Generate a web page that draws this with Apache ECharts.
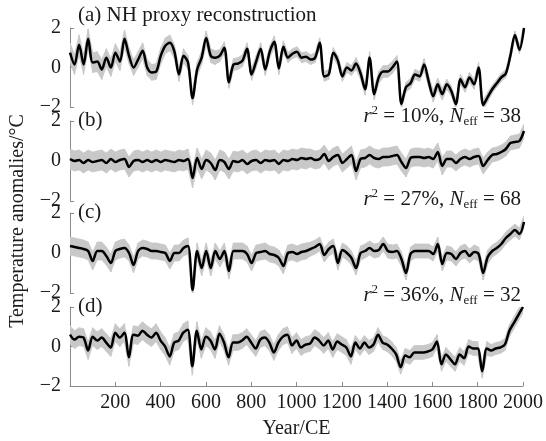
<!DOCTYPE html>
<html lang="en">
<head>
<meta charset="UTF-8">
<title>NH temperature reconstructions</title>
<script src="https://cdn.jsdelivr.net/npm/echarts@6/dist/echarts.min.js"></script>
<style>
  html, body { margin: 0; padding: 0; background: #fff; }
  #main { width: 546px; height: 441px; }
</style>
</head>
<body>
<div id="main"></div>
<script>
// sample years (every 20 yr, 0..2000 CE)
var years = [];
for (var yr = 0; yr <= 2000; yr += 20) years.push(yr);

// (a) NH proxy reconstruction
var seriesA = [
  0.75, 0.15, 1.15, 0.15, 1.45, 0.25, 0.3, -0.1, 0.5, 0.0,
  0.75, 0.3, 1.45, 0.6, 0.0, 0.4, 0.85, 0.0, -0.25, -0.2,
  0.6, 1.1, 1.25, 0.8, -0.35, 0.6, 0.25, -1.55, -0.1, 0.5,
  1.5, 0.6, 0.5, 0.6, 1.0, -0.75, 0.15, 0.2, 0.35, 0.95,
  -0.35, 0.3, 0.95, -0.1, 0.8, 1.3, -0.05, 1.05, 0.5, 0.7,
  0.8, 0.5, 0.55, 0.4, 0.5, 1.25, -0.45, -0.35, 0.75, 0.35,
  -0.45, 0.0, -0.15, 0.2, -0.3, -1.1, 0.5, -1.35, -0.5, -0.2,
  -0.2, 0.0, 0.3, -1.85, -1.0, -0.8, -0.35, -0.45, 0.15, -0.7,
  -1.45, -0.85, -1.35, -0.85, -1.2, -1.85, -0.6, -1.0, -0.5, -0.85,
  0.0, -1.9, -1.5, -1.1, -0.8, -0.5, -0.3, 0.6, 1.65, 0.9,
  2.0
];
// (b)
var seriesB = [
  0.1, 0.0, 0.05, -0.1, 0.05, -0.05, 0.0, 0.05, -0.1, 0.1,
  -0.05, 0.05, 0.1, -0.3, 0.0, 0.05, -0.05, 0.05, -0.05, 0.05,
  -0.05, 0.05, 0.0, -0.05, 0.05, 0.0, 0.1, -0.85, 0.15, -0.4,
  0.05, -0.1, -0.45, 0.05, -0.05, -0.4, 0.0, -0.05, 0.05, -0.15,
  0.0, 0.05, -0.1, 0.05, 0.0, 0.05, -0.15, 0.05, 0.0, 0.1,
  0.05, 0.15, 0.1, 0.15, 0.05, 0.1, 0.35, 0.0, 0.2, 0.3,
  -0.1, 0.1, 0.3, -0.5, 0.1, 0.15, 0.3, 0.15, 0.1, 0.2,
  0.2, 0.25, 0.3, -0.05, -0.35, 0.15, 0.2, 0.2, 0.15, 0.2,
  0.1, 0.45, -0.25, 0.1, 0.1, -0.1, 0.1, 0.2, 0.1, 0.2,
  0.25, -0.25, 0.05, 0.3, 0.35, 0.45, 0.6, 0.9, 0.95, 1.0,
  1.5
];
// (c)
var seriesC = [
  0.35, 0.3, 0.25, 0.2, 0.1, -0.4, 0.1, 0.1, -0.15, -0.5,
  0.1, 0.2, 0.25, 0.0, -0.6, 0.1, 0.25, 0.2, 0.1, 0.1,
  0.05, 0.0, -0.4, 0.0, 0.0, 0.25, 0.35, -1.85, 0.1, -0.75,
  0.1, -0.75, 0.1, -0.3, 0.1, -0.9, 0.1, 0.1, 0.1, -0.05,
  -0.5, 0.0, 0.05, 0.1, -0.05, -0.1, -0.25, -0.65, 0.0, 0.05,
  -0.05, 0.05, 0.1, 0.2, 0.3, 0.45, -0.1, 0.2, 0.35, -0.5,
  0.15, 0.0, -0.25, -0.75, 0.0, 0.1, 0.25, 0.1, 0.15, 0.45,
  0.1, 0.05, 0.1, -0.3, -1.0, -0.05, 0.1, 0.1, 0.1, 0.1,
  -0.05, 0.45, -0.55, 0.0, -0.05, -0.3, 0.0, 0.1, -0.15, 0.05,
  -0.05, -1.0, -0.2, 0.1, 0.25, 0.45, 0.75, 0.95, 1.15, 0.95,
  1.55
];
// (d)
var seriesD = [
  0.6, 0.35, 0.5, 0.45, -0.2, 0.5, 0.3, 0.45, 0.2, -0.05,
  0.7, 0.45, 0.7, -0.55, 0.6, 0.55, 0.8, 0.6, 0.45, 0.7,
  0.3, 0.0, -0.5, 0.2, 0.3, 0.7, 0.85, -1.0, 0.8, -0.15,
  0.5, 0.3, -0.15, 0.65, 0.2, -0.55, 0.2, 0.2, 0.3, 0.5,
  0.2, -0.1, 0.35, 0.45, 0.2, -0.3, 0.2, 0.5, 0.6, 0.05,
  0.3, -0.05, 0.1, 0.15, 0.45, 0.3, 0.05, 0.3, -0.15, 0.25,
  0.1, -0.05, -0.5, 0.2, -0.1, 0.2, -0.05, 0.1, 0.6, 0.2,
  0.1, -0.1, -0.4, -1.05, -0.45, -0.55, -0.3, -0.3, -0.3, -0.25,
  -0.15, 0.25, -0.9, -0.4, -0.65, -0.9, -0.4, -0.6, 0.0, -0.1,
  -0.1, -1.25, -0.1, -0.2, -0.1, -0.05, 0.1, 0.8, 1.2, 1.6,
  2.0
];

// half-width of the grey uncertainty band, one value per century (0..2000)
var spreadA = [0.5, 0.5, 0.45, 0.4, 0.4, 0.35, 0.35, 0.3, 0.3, 0.3, 0.25,
               0.25, 0.25, 0.3, 0.3, 0.25, 0.3, 0.25, 0.25, 0.2, 0.2];
var spreadB = [0.5, 0.5, 0.5, 0.5, 0.5, 0.5, 0.5, 0.5, 0.5, 0.5, 0.5,
               0.45, 0.45, 0.45, 0.45, 0.45, 0.45, 0.4, 0.4, 0.35, 0.35];
var spreadC = [0.45, 0.45, 0.45, 0.4, 0.4, 0.4, 0.4, 0.4, 0.4, 0.4, 0.4,
               0.35, 0.35, 0.35, 0.35, 0.35, 0.35, 0.35, 0.35, 0.3, 0.3];
var spreadD = [0.45, 0.45, 0.45, 0.45, 0.45, 0.45, 0.45, 0.4, 0.4, 0.4, 0.4,
               0.4, 0.4, 0.35, 0.35, 0.35, 0.35, 0.35, 0.35, 0.3, 0.3];

var panelLabels = ['(a) NH proxy reconstruction', '(b)', '(c)', '(d)'];
var fitR2 = [null, '10%', '27%', '36%'];
var fitNeff = [null, '38', '68', '32'];
var yTicks = [-2, 0, 2];
var xTicks = [200, 400, 600, 800, 1000, 1200, 1400, 1600, 1800, 2000];

var allSeries = [seriesA, seriesB, seriesC, seriesD];
var allSpread = [spreadA, spreadB, spreadC, spreadD];

var serif = 'Liberation Serif, Times New Roman, serif';
var tops = [28, 121, 213, 307];
var heights = [79, 80, 80, 79];
var axisGray = '#8a8a8a';
var bandGray = '#c8c8c8';

// grey band: one quad per segment, between sample k and k+1
function bandRenderer(rows) {
  return function (params, api) {
    var k = params.dataIndex;
    if (k >= rows.length - 1) return;
    var a = rows[k], b = rows[k + 1];
    var pts = [
      api.coord([a[0], a[2]]), api.coord([b[0], b[2]]),
      api.coord([b[0], b[1]]), api.coord([a[0], a[1]])
    ];
    return {
      type: 'polygon',
      shape: { points: pts },
      style: { fill: bandGray, stroke: bandGray, lineWidth: 0.8 }
    };
  };
}

var grids = [], xAxes = [], yAxes = [], series = [], graphics = [];

for (var p = 0; p < 4; p++) {
  grids.push({ left: 70, right: 22, top: tops[p], height: heights[p] });

  var isLast = (p === 3);
  xAxes.push({
    gridIndex: p, type: 'value', min: 0, max: 2000, interval: 200,
    show: isLast,
    axisLine: { show: true, onZero: false, lineStyle: { color: axisGray, width: 1 } },
    axisTick: { show: true, inside: true, length: 4, lineStyle: { color: axisGray } },
    splitLine: { show: false },
    axisLabel: {
      show: true, showMinLabel: false, margin: 7,
      fontFamily: serif, fontSize: 20, color: '#1a1a1a',
      formatter: function (v) { return xTicks.indexOf(v) >= 0 ? String(v) : ''; }
    },
    name: isLast ? 'Year/CE' : '', nameLocation: 'middle', nameGap: 33,
    nameTextStyle: { fontFamily: serif, fontSize: 20, color: '#1a1a1a' }
  });

  yAxes.push({
    gridIndex: p, type: 'value', min: -2, max: 2, interval: 2,
    axisLine: { show: true, onZero: false, lineStyle: { color: axisGray, width: 1 } },
    axisTick: { show: true, inside: true, length: 4, lineStyle: { color: axisGray } },
    splitLine: { show: false },
    axisLabel: {
      margin: 9, fontFamily: serif, fontSize: 20, color: '#1a1a1a',
      formatter: function (v) {
        if (yTicks.indexOf(v) < 0) return '';
        return v < 0 ? '\u2212' + Math.abs(v) : String(v);
      }
    }
  });

  var vals = allSeries[p], spr = allSpread[p];
  var band = [], line = [];
  for (var i = 0; i < years.length; i++) {
    var s = spr[Math.round(years[i] / 100)];
    band.push([years[i], vals[i] - s, vals[i] + s]);
    line.push([years[i], vals[i]]);
  }

  series.push({
    type: 'custom', xAxisIndex: p, yAxisIndex: p, data: band,
    encode: { x: 0, y: [1, 2] }, renderItem: bandRenderer(band),
    clip: true, silent: true, z: 1
  });
  series.push({
    type: 'line', xAxisIndex: p, yAxisIndex: p, data: line,
    symbol: 'none', smooth: 0.3,
    lineStyle: { color: '#000', width: 2.5 }, z: 3
  });

  // panel label
  graphics.push({
    type: 'text', x: 78, y: p === 0 ? 15 : tops[p] - 1, z: 10,
    style: {
      text: panelLabels[p], fill: '#1a1a1a',
      font: '21px ' + serif,
      align: 'left', verticalAlign: 'middle',
      textAlign: 'left', textVerticalAlign: 'middle'
    }
  });

  // r^2 / N_eff note
  if (fitR2[p]) {
    var ny = [0, 116, 199, 295][p];
    graphics.push({
      type: 'text', x: 521, y: ny, z: 10,
      style: {
        text: '{it|r}{sup|2}{n| = ' + fitR2[p] + ', }{it|N}{sub|eff}{n| = ' + fitNeff[p] + '}',
        align: 'right', verticalAlign: 'middle',
        textAlign: 'right', textVerticalAlign: 'middle',
        fill: '#1a1a1a',
        rich: {
          n: { fontFamily: serif, fontSize: 21, lineHeight: 24, color: '#1a1a1a' },
          it: { fontFamily: serif, fontSize: 21, lineHeight: 24, fontStyle: 'italic', color: '#1a1a1a' },
          sup: { fontFamily: serif, fontSize: 13, lineHeight: 14, verticalAlign: 'top', color: '#1a1a1a' },
          sub: { fontFamily: serif, fontSize: 13, lineHeight: 13, verticalAlign: 'bottom', color: '#1a1a1a' }
        }
      }
    });
  }
}

// shared y-axis title
graphics.push({
  type: 'text', x: 18, y: 221, rotation: Math.PI / 2,
  style: {
    text: 'Temperature anomalies/\u00b0C', fill: '#1a1a1a',
    font: '20px ' + serif,
    align: 'center', verticalAlign: 'middle',
    textAlign: 'center', textVerticalAlign: 'middle'
  }
});

var chart = echarts.init(document.getElementById('main'));
chart.setOption({
  animation: false,
  backgroundColor: '#fff',
  grid: grids,
  xAxis: xAxes,
  yAxis: yAxes,
  series: series,
  graphic: graphics
});
</script>
</body>
</html>
